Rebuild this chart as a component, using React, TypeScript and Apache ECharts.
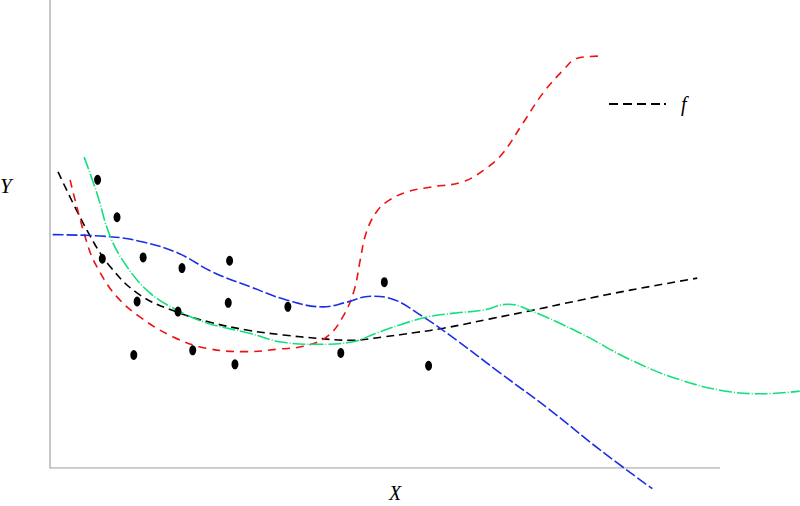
import React, { useEffect, useRef } from "react";
import * as echarts from "echarts";

// Observed data points (x, y)
const pointsX = [0.71, 1.0, 0.78, 1.39, 1.97, 2.68, 1.3, 1.91, 2.66, 3.55, 1.25, 2.13, 2.76, 4.34, 4.99, 5.65];
const pointsY = [4.31, 3.75, 3.13, 3.15, 2.99, 3.1, 2.49, 2.34, 2.47, 2.41, 1.69, 1.76, 1.55, 1.72, 2.78, 1.53];

// True function f (black dashed)
const fX = [0.12, 0.55, 0.9, 1.34, 1.9, 2.39, 2.96, 3.48, 3.99, 4.48, 4.97, 5.48, 5.87, 6.57, 7.16, 7.91, 8.66, 9.66];
const fY = [4.43, 3.56, 3.01, 2.59, 2.33, 2.18, 2.06, 1.99, 1.94, 1.91, 1.96, 2.03, 2.09, 2.23, 2.35, 2.51, 2.66, 2.84];

// Red fit
const redX = [0.3, 0.57, 0.75, 1.0, 1.34, 1.84, 2.34, 2.94, 3.43, 3.78, 4.13, 4.37, 4.54, 4.63, 4.72, 4.88, 5.07, 5.33, 5.67, 6.16, 6.52, 6.76, 7.06, 7.36, 7.66, 7.87, 8.18];
const redY = [4.31, 3.31, 2.92, 2.56, 2.26, 1.96, 1.79, 1.74, 1.78, 1.82, 1.96, 2.26, 2.66, 3.11, 3.52, 3.84, 4.01, 4.13, 4.2, 4.28, 4.49, 4.71, 5.16, 5.61, 5.95, 6.13, 6.16];

// Blue fit
const blueX = [0.04, 0.9, 1.39, 1.9, 2.43, 2.99, 3.54, 4.07, 4.43, 4.78, 5.07, 5.57, 6.07, 6.72, 7.46, 8.21, 8.99];
const blueY = [3.49, 3.46, 3.38, 3.22, 2.93, 2.71, 2.51, 2.41, 2.48, 2.57, 2.54, 2.26, 1.91, 1.42, 0.87, 0.27, -0.31];

// Green fit
const greenX = [0.51, 0.7, 0.9, 1.15, 1.49, 1.9, 2.34, 2.96, 3.48, 3.99, 4.48, 4.88, 5.22, 5.63, 6.07, 6.46, 6.84, 7.16, 7.91, 8.66, 9.4, 10.15, 10.64, 11.19];
const greenY = [4.65, 4.11, 3.46, 3.01, 2.62, 2.36, 2.17, 2.02, 1.88, 1.85, 1.88, 2.02, 2.14, 2.26, 2.32, 2.36, 2.45, 2.36, 2.02, 1.62, 1.32, 1.14, 1.11, 1.15];

// Visible x-axis extent (axis line ends at this value)
const xAxisEnd = 10;
const xViewMax = 11.194;

const zip = (xs: number[], ys: number[]) => xs.map((x, i) => [x, ys[i]]);

const legendDash = "path://M0,0H9V2H0Z M14,0H23V2H14Z M28,0H37V2H28Z M42,0H51V2H42Z M55,0H57V2H55Z";

export default function App() {
  const ref = useRef<HTMLDivElement>(null);
  useEffect(() => {
    if (!ref.current) return;
    const chart = echarts.init(ref.current, null, { renderer: "svg" });
    const axisColor = "#b5b5b5";
    chart.setOption({
      animation: false,
      backgroundColor: "#ffffff",
      grid: { left: 50, top: 0, right: 0, bottom: 38 },
      xAxis: {
        type: "value", min: 0, max: xViewMax,
        axisLine: { show: false }, axisTick: { show: false }, axisLabel: { show: false }, splitLine: { show: false },
      },
      yAxis: {
        type: "value", min: 0, max: 7,
        axisLine: { show: true, lineStyle: { color: axisColor, width: 1.5 } },
        axisTick: { show: false }, axisLabel: { show: false }, splitLine: { show: false },
      },
      legend: {
        data: [{ name: "f", icon: legendDash }],
        left: 604, top: 89,
        itemWidth: 57, itemHeight: 2,
        itemStyle: { color: "#000" },
        textStyle: { fontFamily: "Liberation Serif", fontStyle: "italic", fontSize: 20, color: "#000", padding: [0, 0, 0, 10] },
      },
      graphic: [
        { type: "text", left: 0, top: 175, style: { text: "Y", font: "italic 21px 'Liberation Serif'", fill: "#000" } },
        { type: "text", left: 389, top: 483, style: { text: "X", font: "italic 20px 'Liberation Serif'", fill: "#000" } },
      ],
      series: [
        {
          name: "f", type: "line", data: zip(fX, fY), smooth: 0.4, symbol: "none", clip: false,
          lineStyle: { color: "#000", width: 1.6, type: [8, 5] }, itemStyle: { color: "#000" },
        },
        {
          name: "red", type: "line", data: zip(redX, redY), smooth: 0.4, symbol: "none", clip: false,
          lineStyle: { color: "#ee1111", width: 1.6, type: [8, 6] },
        },
        {
          name: "blue", type: "line", data: zip(blueX, blueY), smooth: 0.4, symbol: "none", clip: false,
          lineStyle: { color: "#1a2ee8", width: 1.6, type: [11, 3] },
        },
        {
          name: "green", type: "line", data: zip(greenX, greenY), smooth: 0.4, symbol: "none", clip: false,
          lineStyle: { color: "#12e07a", width: 1.6, type: [13, 2, 1, 2] },
        },
        {
          name: "points", type: "scatter", data: zip(pointsX, pointsY), symbol: "circle", symbolSize: [7, 10],
          itemStyle: { color: "#000", opacity: 1 }, z: 5,
        },
        {
          name: "xaxis", type: "line", data: [[0, 0], [xAxisEnd, 0]], symbol: "none", silent: true, z: 1,
          lineStyle: { color: axisColor, width: 1.5 },
        },
      ],
    });
    return () => chart.dispose();
  }, []);
  return <div ref={ref} style={{ width: 800, height: 506, position: "absolute", left: 0, top: 0 }} />;
}
